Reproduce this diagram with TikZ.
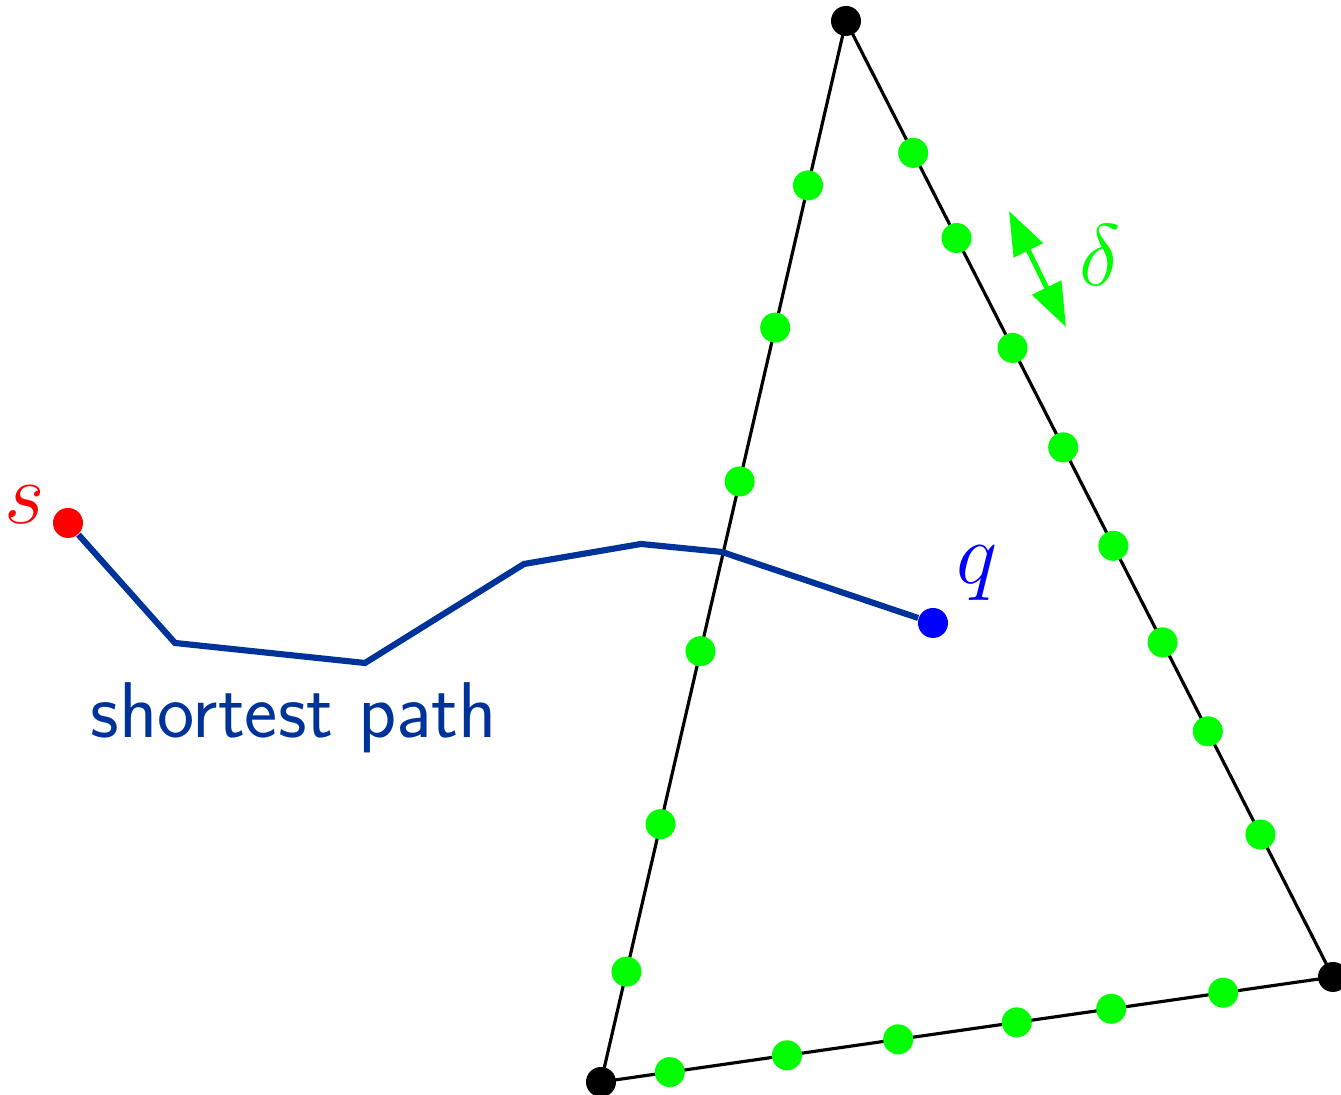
\documentclass[tikz,border=0pt]{standalone}
\usepackage{xcolor}
\usepackage{tikz}
\usetikzlibrary{arrows.meta, positioning, calc}
\definecolor{pathblue}{RGB}{0,51,153}
\tikzset{
  vdot/.style={circle, fill=black, inner sep=0pt, minimum size=0.3cm},
  gdot/.style={circle, fill=green, inner sep=0pt, minimum size=0.3cm},
  edge/.style={draw=black, line width=0.9pt},
  spath/.style={draw=pathblue, line width=1.75pt},
}
\begin{document}
\begin{tikzpicture}[font=\fontsize{23}{26}\selectfont]
    \useasboundingbox (0,0) rectangle (13.41,10.95);
    \coordinate (A) at (8.46,10.74);
    \coordinate (B) at (6.01,0.13);
    \coordinate (C) at (13.33,1.18);
    \draw[edge] (A) -- (B) -- (C) -- cycle;
    \foreach \t in {0.155,0.289,0.434,0.594,0.757,0.896}
      \node[gdot] at ($(A)!\t!(B)$) {};
    \foreach \t in {0.138,0.227,0.342,0.446,0.549,0.650,0.743,0.851}
      \node[gdot] at ($(A)!\t!(C)$) {};
    \foreach \t in {0.094,0.254,0.406,0.568,0.697,0.850}
      \node[gdot] at ($(B)!\t!(C)$) {};
    \node[vdot] (tA) at (A) {};
    \node[vdot] (tB) at (B) {};
    \node[vdot] (tC) at (C) {};

    \coordinate (d1) at (10.09,8.84);
    \coordinate (d2) at (10.66,7.68);
    \draw[green, line width=1.4pt, {Triangle[length=12.5pt,width=9pt]}-{Triangle[length=12.5pt,width=9pt]}] (d1) -- (d2);
    \node[text=green] (delta) at (11.00,8.40) {$\delta$};

    \node[circle, fill=red, inner sep=0pt, minimum size=0.3cm] (s) at (0.68,5.72) {};
    \node[circle, fill=blue, inner sep=0pt, minimum size=0.3cm] (q) at (9.33,4.72) {};
    \node[text=red] (slabel) at (0.25,5.90) {$s$};
    \node[text=blue] (qlabel) at (9.77,5.22) {$q$};
    \coordinate (p1) at (1.75,4.52);
    \coordinate (p2) at (3.65,4.32);
    \coordinate (p3) at (5.24,5.31);
    \coordinate (p4) at (6.41,5.51);
    \coordinate (p5) at (7.22,5.43);
    \draw[spath] (s) -- (p1) -- (p2) -- (p3) -- (p4) -- (p5) -- (q);
    \node[text=pathblue, font=\fontsize{22.5}{26}\selectfont\sffamily] (plabel) at (2.94,3.77) {shortest path};
\end{tikzpicture}
\end{document}
